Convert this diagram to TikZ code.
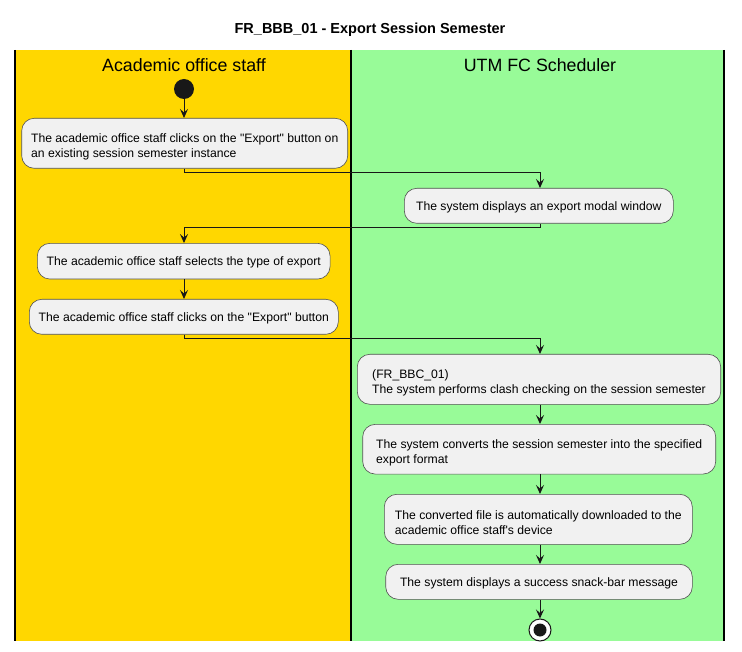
\documentclass[tikz,border=0pt]{standalone}
\usepackage{fontspec}
\setmainfont{Liberation Sans}[Ligatures=TeXOff]
\usetikzlibrary{arrows.meta}
\definecolor{laneA}{HTML}{FFD700}
\definecolor{laneB}{HTML}{98FB98}
\definecolor{boxfill}{HTML}{F1F1F1}
\definecolor{ink}{HTML}{181818}
\newcommand{\lift}{\rule{0pt}{15.5pt}}
\begin{document}
\begin{tikzpicture}[x=1pt,y=-1pt,
  act/.style={draw=ink!75, line width=0.6pt, fill=boxfill, rounded corners=12.5pt,
    font=\fontsize{12.2}{14.8}\selectfont, inner sep=0pt, text=black,
    execute at begin node={\rule{0pt}{12pt}}},
  multi/.style={align=left, execute at begin node={}},
  flow/.style={draw=ink, line width=1pt, -{Stealth[length=9pt,width=8pt,inset=3.5pt]}},
  lanehead/.style={font=\fontsize{17.8}{20}\selectfont, text=black},
  laneline/.style={draw=black, line width=1.2pt}]
\useasboundingbox (0,0) rectangle (742,652);
% lanes
\fill[laneA] (15,50) rectangle (351,641);
\fill[laneB] (351,50) rectangle (724,641);
\draw[laneline] (15,50) -- (15,641);
\draw[laneline] (351,50) -- (351,641);
\draw[laneline] (724,50) -- (724,641);
% title and headers
\node[font=\bfseries\fontsize{14.5}{16}\selectfont] (title) at (370,30) {FR\_BBB\_01 - Export Session Semester};
\node[lanehead] (hA) at (184,65) {Academic office staff};
\node[lanehead] (hB) at (540,65) {UTM FC Scheduler};
% start
\node[circle, fill=ink, minimum size=20pt, inner sep=0pt] (start) at (184,89) {};
% activities
\node[act, multi, minimum width=326pt, minimum height=50pt] (b1) at (184.7,143.3)
  {\lift The academic office staff clicks on the "Export" button on\\an existing session semester instance};
\node[act, minimum width=269pt, minimum height=35pt] (b2) at (538.8,205.8)
  {The system displays an export modal window};
\node[act, minimum width=292.7pt, minimum height=35.7pt] (b3) at (183.7,261.2)
  {The academic office staff selects the type of export};
\node[act, minimum width=309pt, minimum height=35pt] (b4) at (183.8,316.8)
  {The academic office staff clicks on the "Export" button};
\node[act, multi, minimum width=363.4pt, minimum height=50pt] (b5) at (539,379.3)
  {\lift(FR\_BBC\_01)\\The system performs clash checking on the session semester};
\node[act, multi, minimum width=353pt, minimum height=49.7pt] (b6) at (539.2,449.2)
  {\lift The system converts the session semester into the specified\\export format};
\node[act, multi, minimum width=308pt, minimum height=50pt] (b7) at (538.3,519.3)
  {\lift The converted file is automatically downloaded to the\\academic office staff's device};
\node[act, minimum width=306.6pt, minimum height=35pt] (b8) at (539,581.8)
  {The system displays a success snack-bar message};
% end
\node[circle, draw=ink, line width=1pt, fill=white, minimum size=22pt, inner sep=0pt] (stop) at (540,630) {};
\node[circle, fill=ink, minimum size=13pt, inner sep=0pt] (stopin) at (stop.center) {};
% connectors
\draw[flow] (start) -- (b1.north -| start);
\coordinate (c1) at (184,173);
\coordinate (c2) at (540,228);
\coordinate (c3) at (184,339);
\draw[flow] (b1.south -| c1) -- (c1) -| (b2.north -| c2);
\draw[flow] (b2.south -| c2) -- (c2) -| (b3.north -| c1);
\draw[flow] (b3.south -| c1) -- (b4.north -| c1);
\draw[flow] (b4.south -| c1) -- (c3) -| (b5.north -| c2);
\draw[flow] (b5.south -| c2) -- (b6.north -| c2);
\draw[flow] (b6.south -| c2) -- (b7.north -| c2);
\draw[flow] (b7.south -| c2) -- (b8.north -| c2);
\draw[flow] (b8.south -| c2) -- (stop.north);
\end{tikzpicture}
\end{document}
